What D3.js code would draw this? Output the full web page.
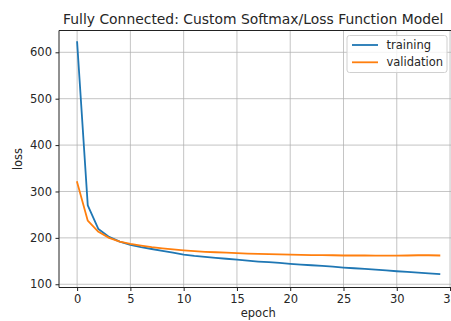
<!DOCTYPE html>
<html><head><meta charset="utf-8">
<script src="https://cdn.jsdelivr.net/npm/d3@7"></script>
<style>body{margin:0;background:#fff;overflow:hidden}svg{display:block}text{font-family:"DejaVu Sans",sans-serif;fill:#262626}</style>
</head><body>
<svg id="c" width="451" height="321"></svg>
<script>
const epochs = d3.range(0, 35);
const training = [622,270,219,202,192,185,180,176,172,168,164,161,159,157,155,153,151,149,147.5,146,144,142.5,141,139.5,138,136,134.5,133,131.5,130,128,126.5,125,123.5,122];
const validation = [320,237,213,200,192,187,183.5,180,177.5,175,173,171.5,170,169,168,167,166,165.5,165,164.5,164,163.5,163,163,162.5,162,162,162,161.5,161.5,161.5,162,162.5,162.5,162];
const xTicks = [0,5,10,15,20,25,30,35];
const yTicks = [100,200,300,400,500,600];
const seriesNames = ["training","validation"];
const colors = ["#1f77b4","#ff7f0e"];

const svg = d3.select("#c");
const L = 59, R = 457.5, T = 30.5, B = 287.5;
const x = d3.scaleLinear().domain([-1.7, 35.7]).range([L, R]);
const y = d3.scaleLinear().domain([93, 647]).range([B, T]);

const g = svg.append("g");
g.selectAll(".gx").data(xTicks).join("line")
  .attr("x1", d=>x(d)).attr("x2", d=>x(d)).attr("y1", T).attr("y2", B)
  .attr("stroke", "#b0b0b0").attr("stroke-opacity", 0.75).attr("stroke-width", 1);
g.selectAll(".gy").data(yTicks).join("line")
  .attr("x1", L).attr("x2", R).attr("y1", d=>y(d)).attr("y2", d=>y(d))
  .attr("stroke", "#b0b0b0").attr("stroke-opacity", 0.75).attr("stroke-width", 1);

const line = d3.line().x((d,i)=>x(epochs[i])).y(d=>y(d));
[training, validation].forEach((s,k)=>{
  g.append("path").datum(s).attr("d", line).attr("fill","none")
   .attr("stroke", colors[k]).attr("stroke-width", 1.8).attr("stroke-linejoin","round").attr("stroke-linecap","square");
});

const xa = svg.append("g").attr("transform", `translate(0,${B})`)
  .call(d3.axisBottom(x).tickValues(xTicks).tickSize(3.5).tickPadding(3.5).tickFormat(d3.format("d")));
const ya = svg.append("g").attr("transform", `translate(${L},0)`)
  .call(d3.axisLeft(y).tickValues(yTicks).tickSize(3.5).tickPadding(3.5).tickFormat(d3.format("d")));
[xa, ya].forEach(a=>{
  a.select(".domain").remove();
  a.selectAll("line").attr("stroke","#222").attr("stroke-width",1);
  a.selectAll("text").attr("font-size", 11.5).attr("fill","#333").style("font-family","DejaVu Sans");
});
svg.append("path").attr("d", `M${L},${B}V${T}H${R+5}`).attr("fill","none").attr("stroke","#222").attr("stroke-width",1);
svg.append("line").attr("x1",L).attr("x2",R+5).attr("y1",B).attr("y2",B).attr("stroke","#222").attr("stroke-width",1);

svg.append("text").attr("x", 63).attr("y", 24).attr("text-anchor","start").attr("font-size", 13.9).text("Fully Connected: Custom Softmax/Loss Function Model");
svg.append("text").attr("x", (L+R)/2).attr("y", 317).attr("text-anchor","middle").attr("font-size", 11.5).text("epoch");
svg.append("text").attr("transform", `translate(22,${(T+B)/2}) rotate(-90)`).attr("text-anchor","middle").attr("font-size", 11.5).text("loss");

const lg = svg.append("g");
lg.append("rect").attr("x", 347).attr("y", 35.5).attr("width", 100).attr("height", 37).attr("rx", 2.5)
  .attr("fill","#fff").attr("fill-opacity",0.8).attr("stroke","#d0d0d0").attr("stroke-width",1);
seriesNames.forEach((n,i)=>{
  const yy = 45 + i*17.3;
  lg.append("line").attr("x1", 352).attr("x2", 378).attr("y1", yy).attr("y2", yy).attr("stroke", colors[i]).attr("stroke-width", 1.8);
  lg.append("text").attr("x", 386.5).attr("y", yy+4).attr("font-size", 11.5).text(n);
});
</script>
</body></html>
